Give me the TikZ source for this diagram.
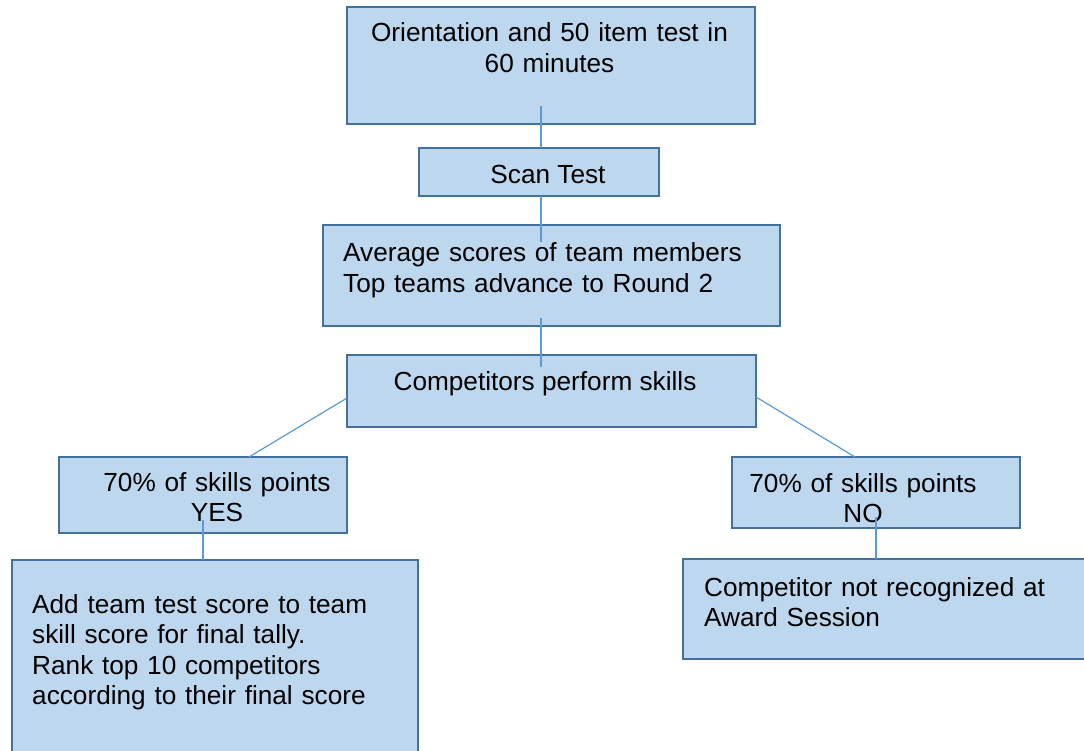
\documentclass[tikz,border=0pt]{standalone}
\usepackage{fontspec}
\setmainfont{Liberation Sans}
\usetikzlibrary{positioning,calc}
\definecolor{boxfill}{HTML}{BDD7EE}
\definecolor{boxedge}{HTML}{41719C}
\definecolor{linkblue}{HTML}{5B9BD5}

\begin{document}
\begin{tikzpicture}[x=1pt,y=-1pt,
  box/.style={draw=boxedge,fill=boxfill,line width=2.2pt,anchor=north west,inner sep=0pt,outer sep=0pt},
  txt/.style={font=\fontsize{26.2}{30.5}\selectfont,inner sep=0pt,anchor=base},
  link/.style={draw=linkblue,line width=1.2pt}]
\clip (0,0) rectangle (1084,751);
% Round 1
\node[box,minimum width=408,minimum height=117] (orient) at (347,7) {};
\node[txt,text width=420,align=center] (orientT) at (549.5,42) {Orientation and 50 item test in\\60 minutes};
\node[box,minimum width=240,minimum height=48] (scan) at (419,148) {};
\node[txt] (scanT) at (548,184) {Scan Test};
\node[box,minimum width=457,minimum height=101] (avg) at (323,225) {};
\node[txt,anchor=base west,text width=440,align=left] (avgT) at (343,262) {Average scores of team members\\Top teams advance to Round 2};
% Round 2
\node[box,minimum width=409,minimum height=72] (perform) at (347,355) {};
\node[txt] (performT) at (545,390) {Competitors perform skills};
% Yes branch
\node[box,minimum width=288,minimum height=76] (yes) at (59,457) {};
\node[txt,text width=280,align=center] (yesT) at (217,491) {70\% of skills points\\YES};
\node[box,minimum width=406,minimum height=220] (rank) at (12,560) {};
\node[txt,anchor=base west,text width=380,align=left] (rankT) at (32,613) {Add team test score to team\\skill score for final tally.\\Rank top 10 competitors\\according to their final score};
% No branch
\node[box,minimum width=288,minimum height=71] (no) at (732,457) {};
\node[txt,text width=280,align=center] (noT) at (863,492) {70\% of skills points\\NO};
\node[box,minimum width=420,minimum height=100] (notrec) at (683,559) {};
\node[txt,anchor=base west,text width=370,align=left] (notrecT) at (704,596) {Competitor not recognized at\\Award Session};
% connectors
\coordinate (spine) at (541,0);
\draw[link] ([yshift=18pt]spine |- orient.south) -- (spine |- scan.north);
\draw[link] (spine |- scan.south) -- ([yshift=-17pt]spine |- avg.north);
\draw[link] ([yshift=8pt]spine |- avg.south) -- ([yshift=-12pt]spine |- perform.north);
\draw[link] ([yshift=-7pt]perform.west) -- ([xshift=46pt]yes.north);
\draw[link] ([yshift=-6pt]perform.east) -- ([xshift=-21pt]no.north);
\draw[link] ([yshift=13pt]yes.south) -- (yes.south |- rank.north);
\draw[link] ([yshift=11pt]no.south) -- (no.south |- notrec.north);
\end{tikzpicture}
\end{document}
